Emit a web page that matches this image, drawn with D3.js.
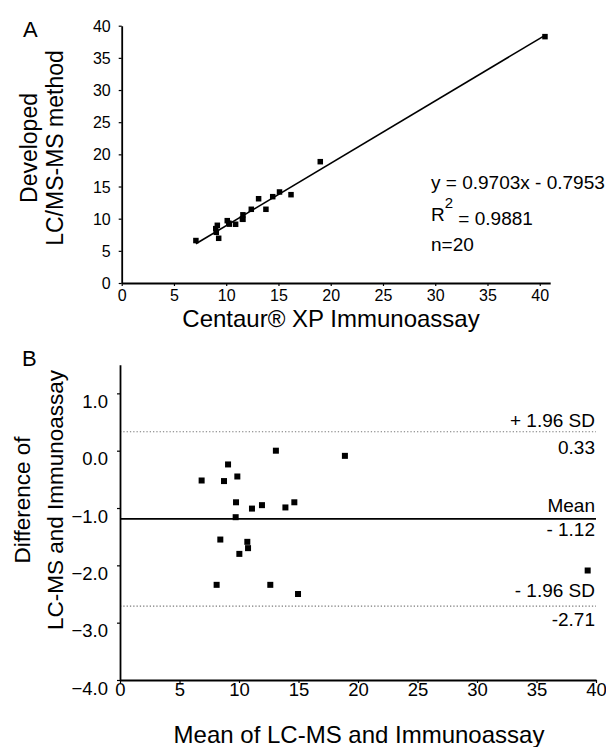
<!DOCTYPE html>
<html><head><meta charset="utf-8">
<script src="https://cdn.jsdelivr.net/npm/d3@7/dist/d3.min.js"></script>
<style>body{margin:0;background:#fff}svg{display:block;font-family:"Liberation Sans",Arial,sans-serif}</style>
</head><body><svg id="c" width="606" height="747"></svg>
<script>
// ---- Panel A: LC/MS-MS vs Centaur XP immunoassay ----
const immunoA = [7.1, 9.0, 9.15, 10.1, 10.25, 10.3, 11.6, 12.4, 13.1, 14.45, 15.1, 19.0, 9.05, 11.55, 11.6, 10.9, 9.28, 13.8, 16.2, 40.5];
const lcmsA   = [6.6, 8.45, 8.97, 9.69, 9.3, 9.15, 10.6, 11.46, 13.1, 13.42, 14.15, 18.86, 7.88, 9.95, 9.9, 9.13, 6.95, 11.46, 13.73, 38.3];
const regSlope = 0.9703, regIntercept = -0.7953;
const ticksA = [0, 5, 10, 15, 20, 25, 30, 35, 40];
const eqLines = ["y = 0.9703x - 0.7953", "R", "2", " = 0.9881", "n=20"];

// ---- Panel B: Bland-Altman ----
const meanB = [6.86, 8.74, 9.08, 9.86, 9.75, 9.72, 11.09, 11.93, 13.1, 13.9, 14.65, 18.9, 8.43, 10.7, 10.76, 10.03, 8.12, 12.63, 14.96, 39.3];
const diffB = [-0.52, -0.53, -0.24, -0.45, -0.90, -1.16, -1.01, -0.95, 0.0, -0.99, -0.90, -0.09, -1.55, -1.59, -1.70, -1.80, -2.34, -2.34, -2.50, -2.09];
const upperSD = 0.33, lowerSD = -2.71, meanLine = -1.19;
const limitLabels = ["+ 1.96 SD", "0.33", "Mean", "- 1.12", "- 1.96 SD", "-2.71"];
const ticksBy = [-4, -3, -2, -1, 0, 1];
const ticksBx = [0, 5, 10, 15, 20, 25, 30, 35, 40];

const svg = d3.select("#c");
const FF = "Liberation Sans, Arial";

// ===== Panel A =====
const xA = d3.scaleLinear().domain([0, 41]).range([121.7, 550.2]);
const yA = d3.scaleLinear().domain([0, 40]).range([283, 25.7]);
const gA = svg.append("g");

gA.append("g").attr("transform", `translate(0,${yA(0)})`)
  .call(d3.axisBottom(xA).tickValues(ticksA).tickSize(3).tickSizeOuter(0).tickPadding(4))
  .call(g => g.selectAll("text").attr("font-size", 16).attr("fill", "#000").attr("font-family", FF));
gA.append("g").attr("transform", `translate(${xA(0)},0)`)
  .call(d3.axisLeft(yA).tickValues(ticksA).tickSize(3).tickSizeOuter(0).tickPadding(8))
  .call(g => g.selectAll("text").attr("font-size", 16).attr("fill", "#000").attr("font-family", FF).attr("dy", "0.35em"));
gA.selectAll(".domain").attr("stroke-width", 1.8).attr("stroke", "#000");
gA.selectAll(".tick line").attr("stroke-width", 1.2);

// regression line
const xr = d3.extent(immunoA);
gA.append("line")
  .attr("x1", xA(xr[0])).attr("y1", yA(regSlope * xr[0] + regIntercept))
  .attr("x2", xA(xr[1])).attr("y2", yA(regSlope * xr[1] + regIntercept))
  .attr("stroke", "#000").attr("stroke-width", 1.6);

const sA = 5.5;
gA.selectAll("rect.pt").data(immunoA).join("rect").attr("class", "pt")
  .attr("x", (d) => xA(d) - sA / 2).attr("y", (d, i) => yA(lcmsA[i]) - sA / 2)
  .attr("width", sA).attr("height", sA).attr("fill", "#000");

// equation
const eqX = 431;
gA.append("text").attr("x", eqX).attr("y", 189).attr("font-size", 19).text(eqLines[0]);
const r2 = gA.append("text").attr("x", eqX).attr("y", 221).attr("font-size", 19);
r2.append("tspan").text(eqLines[1]);
r2.append("tspan").attr("dy", -13).attr("font-size", 15).text(eqLines[2]);
r2.append("tspan").attr("dy", 17).text(eqLines[3]);
gA.append("text").attr("x", eqX).attr("y", 251).attr("font-size", 19).text(eqLines[4]);

// titles
svg.append("text").attr("x", 23).attr("y", 37).attr("font-size", 22).text("A");
svg.append("text").attr("transform", "translate(37,148) rotate(-90)").attr("text-anchor", "middle").attr("font-size", 23).text("Developed");
svg.append("text").attr("transform", "translate(63,148) rotate(-90)").attr("text-anchor", "middle").attr("font-size", 23).text("LC/MS-MS method");
svg.append("text").attr("x", 331).attr("y", 327).attr("text-anchor", "middle").attr("font-size", 24).text("Centaur\u00AE XP Immunoassay");

// ===== Panel B =====
const xB = d3.scaleLinear().domain([0, 40]).range([120, 596]);
const yB = d3.scaleLinear().domain([-4, 1.5]).range([680, 364.7]);
const gB = svg.append("g");

// limit lines
[upperSD, lowerSD].forEach(v => {
  gB.append("line").attr("x1", xB(0)).attr("x2", xB(40)).attr("y1", yB(v)).attr("y2", yB(v))
    .attr("stroke", "#7a7a7a").attr("stroke-width", 1.2).attr("stroke-dasharray", "1.3,2");
});
gB.append("line").attr("x1", xB(0)).attr("x2", xB(40)).attr("y1", yB(meanLine)).attr("y2", yB(meanLine))
  .attr("stroke", "#000").attr("stroke-width", 1.6);

gB.append("g").attr("transform", `translate(0,${yB(-4)})`)
  .call(d3.axisBottom(xB).tickValues(ticksBx).tickSize(3).tickSizeOuter(0).tickPadding(0))
  .call(g => g.selectAll("text").attr("font-size", 18.5).attr("fill", "#000").attr("font-family", FF));
gB.append("g").attr("transform", `translate(${xB(0)},0)`)
  .call(d3.axisLeft(yB).tickValues(ticksBy).tickFormat(d3.format(".1f")).tickSize(3).tickSizeOuter(0).tickPadding(9))
  .call(g => g.selectAll("text").attr("font-size", 18.5).attr("fill", "#000").attr("font-family", FF).attr("dy", "0.76em"));
gB.selectAll(".domain").attr("stroke-width", 1.8).attr("stroke", "#000");
gB.selectAll(".tick line").attr("stroke-width", 1.2);

const sB = 6;
gB.selectAll("rect.pt").data(meanB).join("rect").attr("class", "pt")
  .attr("x", d => xB(d) - sB / 2).attr("y", (d, i) => yB(diffB[i]) - sB / 2)
  .attr("width", sB).attr("height", sB).attr("fill", "#000");

// limit labels
const lx = 595;
const lab = (t, y) => gB.append("text").attr("x", lx).attr("y", y).attr("text-anchor", "end").attr("font-size", 19).text(t);
lab(limitLabels[0], yB(upperSD) - 5);
lab(limitLabels[1], yB(upperSD) + 22);
lab(limitLabels[2], yB(meanLine) - 7);
lab(limitLabels[3], yB(meanLine) + 17);
lab(limitLabels[4], yB(lowerSD) - 9);
lab(limitLabels[5], yB(lowerSD) + 20);

svg.append("text").attr("x", 22).attr("y", 366).attr("font-size", 22).text("B");
svg.append("text").attr("transform", "translate(30,500) rotate(-90)").attr("text-anchor", "middle").attr("font-size", 22.5).text("Difference of");
svg.append("text").attr("transform", "translate(63,500) rotate(-90)").attr("text-anchor", "middle").attr("font-size", 22.5).text("LC-MS and Immunoassay");
svg.append("text").attr("x", 359).attr("y", 743).attr("text-anchor", "middle").attr("font-size", 24).text("Mean of LC-MS and Immunoassay");
</script></body></html>
